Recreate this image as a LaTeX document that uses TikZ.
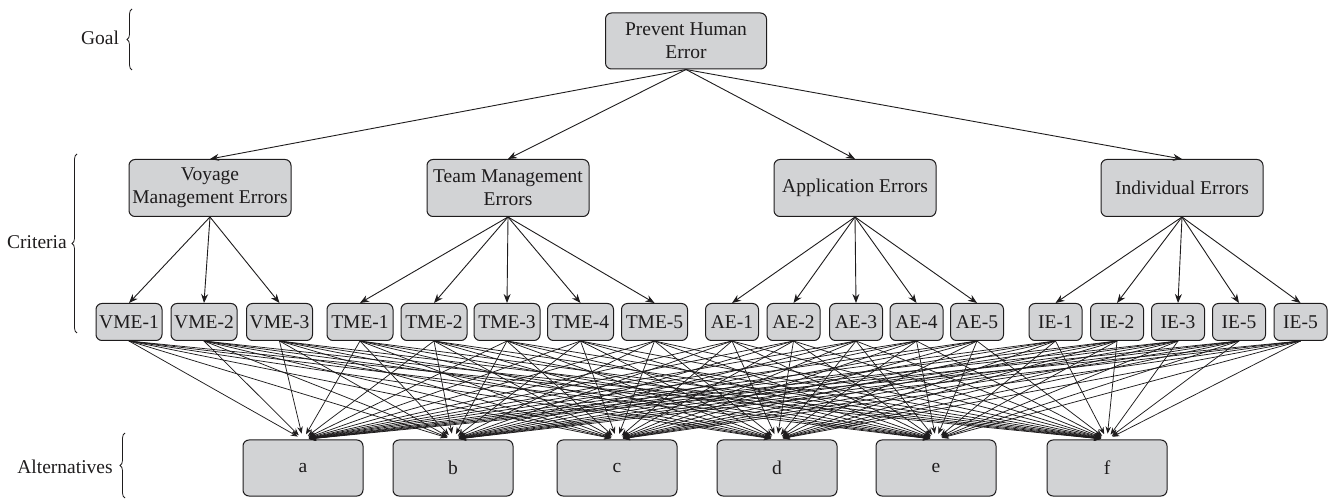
\documentclass[tikz,border=0pt]{standalone}
\usepackage{fontspec}
\setmainfont{Liberation Serif}
\usetikzlibrary{arrows.meta,decorations.pathreplacing,calc}
\definecolor{boxgray}{RGB}{210,211,213}
\definecolor{ink}{RGB}{30,28,29}
\tikzset{
  bx/.style={draw=ink, fill=boxgray, rounded corners=6pt, line width=1pt, inner sep=0pt, align=center, text=ink, font=\fontsize{19.5}{23}\selectfont},
  goalbox/.style={bx, minimum width=161pt, minimum height=56pt},
  critbox/.style={bx, minimum width=162pt, minimum height=57pt},
  subwide/.style={bx, minimum width=66pt, minimum height=37pt},
  subnarrow/.style={bx, minimum width=53pt, minimum height=37pt},
  altbox/.style={bx, minimum width=120pt, minimum height=56pt},
  lbl/.style={text=ink, font=\fontsize{19.5}{23}\selectfont, inner sep=0pt},
  conn/.style={draw=ink, line width=0.9pt, -{Stealth[length=9pt,width=7pt]}},
  thin/.style={draw=ink, line width=0.75pt, -{Stealth[length=7pt,width=5.5pt]}},
  brc/.style={draw=ink, line width=0.8pt, decorate, decoration={brace, amplitude=5pt}}
}
\begin{document}
\begin{tikzpicture}[x=1pt,y=1pt]
\useasboundingbox (0,0) rectangle (1333,498);
% goal
\node[goalbox] (goal) at (686,457) {Prevent Human\\Error};
% criteria
\node[critbox] (vme) at (210,310) {Voyage\\Management Errors};
\node[critbox] (tme) at (508,310) {Team Management\\Errors};
\node[critbox] (ae) at (855,310) {Application Errors};
\node[critbox] (ie) at (1182,310) {Individual Errors};
% sub-criteria
\node[subwide] (vme1) at (129,176) {VME-1};
\node[subwide] (vme2) at (204,176) {VME-2};
\node[subwide] (vme3) at (279.5,176) {VME-3};
\node[subwide] (tme1) at (360,176) {TME-1};
\node[subwide] (tme2) at (434,176) {TME-2};
\node[subwide] (tme3) at (507,176) {TME-3};
\node[subwide] (tme4) at (580.5,176) {TME-4};
\node[subwide] (tme5) at (654.5,176) {TME-5};
\node[subnarrow] (ae1) at (732,176) {AE-1};
\node[subnarrow] (ae2) at (793.5,176) {AE-2};
\node[subnarrow] (ae3) at (856,176) {AE-3};
\node[subnarrow] (ae4) at (916.5,176) {AE-4};
\node[subnarrow] (ae5) at (977,176) {AE-5};
\node[subnarrow] (ie1) at (1055.5,176) {IE-1};
\node[subnarrow] (ie2) at (1117,176) {IE-2};
\node[subnarrow] (ie3) at (1178,176) {IE-3};
\node[subnarrow] (ie4) at (1239,176) {IE-5};
\node[subnarrow] (ie5) at (1300.5,176) {IE-5};
% alternatives
\node[altbox] (a) at (303,30) {a};
\node[altbox] (b) at (453,30) {b};
\node[altbox] (c) at (617,30) {c};
\node[altbox] (d) at (777,30) {d};
\node[altbox] (e) at (936,30) {e};
\node[altbox] (f) at (1107,30) {f};
% labels and braces
\node[lbl] (lgoal) at (100,460) {Goal};
\node[lbl] (lcrit) at (37,256) {Criteria};
\node[lbl] (lalt) at (65,31) {Alternatives};
\coordinate (g1) at (132,428); \coordinate (g2) at (132,489);
\coordinate (c1) at (77,165); \coordinate (c2) at (77,344);
\coordinate (a1) at (125,0); \coordinate (a2) at (125,65);
\draw[brc] (g1) -- (g2);
\draw[brc] (c1) -- (c2);
\draw[brc] (a1) -- (a2);
% goal to criteria
\foreach \n in {vme,tme,ae,ie} \draw[conn] (goal.south) -- (\n.north);
% criteria to sub-criteria
\foreach \n in {vme1,vme2,vme3} \draw[conn] (vme.south) -- (\n.north);
\foreach \n in {tme1,tme2,tme3,tme4,tme5} \draw[conn] (tme.south) -- (\n.north);
\foreach \n in {ae1,ae2,ae3,ae4,ae5} \draw[conn] (ae.south) -- (\n.north);
\foreach \n in {ie1,ie2,ie3,ie4,ie5} \draw[conn] (ie.south) -- (\n.north);
% sub-criteria to alternatives
\foreach \s in {vme1,vme2,vme3,tme1,tme2,tme3,tme4,tme5,ae1,ae2,ae3,ae4,ae5,ie1,ie2,ie3,ie4,ie5}
  \foreach \t in {a,b,c,d,e,f}
    \draw[thin] (\s.south) -- ($(\t.north)!6pt!(\s.south)$);
\end{tikzpicture}
\end{document}
